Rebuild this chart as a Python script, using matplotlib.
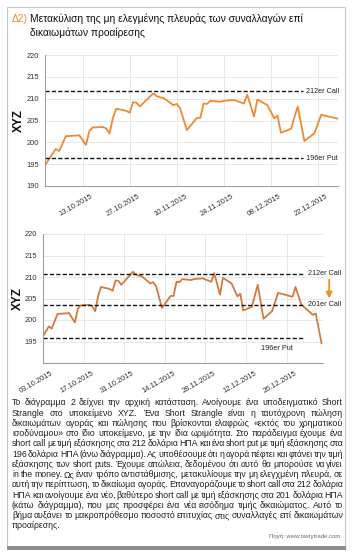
import matplotlib
matplotlib.use("Agg")
import matplotlib.pyplot as plt
import matplotlib.dates as mdates
import matplotlib.transforms as mtransforms
from matplotlib import font_manager
from matplotlib.patches import Rectangle
import pandas as pd

# --- Data -------------------------------------------------------------------
dates = ["2015-10-02", "2015-10-05", "2015-10-06", "2015-10-08", "2015-10-12",
         "2015-10-14", "2015-10-15", "2015-10-16", "2015-10-19", "2015-10-20",
         "2015-10-21", "2015-10-22", "2015-10-23", "2015-10-26", "2015-10-27",
         "2015-10-28", "2015-10-29", "2015-10-30", "2015-11-03", "2015-11-04",
         "2015-11-05", "2015-11-06", "2015-11-09", "2015-11-10", "2015-11-11",
         "2015-11-13", "2015-11-16", "2015-11-17", "2015-11-18", "2015-11-19",
         "2015-11-20", "2015-11-23", "2015-11-24", "2015-11-27", "2015-11-30",
         "2015-12-01", "2015-12-03", "2015-12-04", "2015-12-07", "2015-12-09",
         "2015-12-10", "2015-12-11", "2015-12-14", "2015-12-16", "2015-12-18",
         "2015-12-21", "2015-12-23", "2015-12-28"]
prices = [195.0, 198.5, 198.0, 201.4, 201.6,
          199.4, 202.6, 203.4, 203.5, 203.2,
          202.0, 205.6, 207.7, 207.2, 206.8,
          209.2, 209.1, 208.2, 211.2, 210.6,
          210.3, 210.2, 208.5, 208.8, 207.8,
          202.8, 205.6, 205.6, 208.9, 208.8,
          209.5, 209.3, 209.5, 209.7, 208.9,
          210.9, 205.9, 209.8, 208.5, 205.5,
          206.1, 202.2, 203.1, 208.2, 200.3,
          202.1, 206.3, 205.4]

# extra days shown only in the lower chart
ext_dates = ["2015-12-29", "2015-12-31", "2016-01-04", "2016-01-05", "2016-01-07"]
ext_prices = [207.7, 203.6, 201.2, 201.5, 194.6]

top_levels = [211.7, 196.3]
top_level_labels = ["212er Call", "196er Put"]
bot_levels = [210.7, 203.6, 195.9]
bot_level_labels = ["212er Call", "201er Call", "196er Put"]

top_ticks = ["2015-10-13", "2015-10-27", "2015-11-10", "2015-11-24", "2015-12-08", "2015-12-22"]
bot_ticks = ["2015-10-03", "2015-10-17", "2015-10-31", "2015-11-14", "2015-11-28", "2015-12-12", "2015-12-26"]

title_1 = "Μετακύλιση της μη ελεγμένης πλευράς των συναλλαγών επί"
title_2 = "δικαιωμάτων προαίρεσης"
body_lines = [
    "Το διάγραμμα 2 δείχνει την αρχική κατάσταση. Ανοίγουμε ένα υποδειγματικό Short",
    "Strangle στο υποκείμενο XYZ. Ένα Short Strangle είναι η ταυτόχρονη πώληση",
    "δικαιωμάτων αγοράς και πώλησης που βρίσκονται ελαφρώς «εκτός του χρηματικού",
    "ισοδύναμου» στο ίδιο υποκείμενο, με την ίδια ωριμότητα. Στο παράδειγμα έχουμε ένα",
    "short call με τιμή εξάσκησης στα 212 δολάρια ΗΠΑ και ένα short put με τιμή εξάσκησης στα",
    "196 δολάρια ΗΠΑ (άνω διάγραμμα). Ας υποθέσουμε ότι η αγορά πέφτει και φτάνει την τιμή",
    "εξάσκησης των short puts. Έχουμε απώλεια, δεδομένου ότι αυτό θα μπορούσε να γίνει",
    "in the money. Ως έναν τρόπο αντιστάθμισης, μετακυλίουμε την μη ελεγχμένη πλευρά, σε",
    "αυτή την περίπτωση, το δικαίωμα αγοράς. Επαναγοράζουμε το short call στα 212 δολάρια",
    "ΗΠΑ και ανοίγουμε ένα νέο, βαθύτερο short call με τιμή εξάσκησης στα 201 δολάρια ΗΠΑ",
    "(κάτω διάγραμμα), που μας προσφέρει ένα νέα εισόδημα τιμής δικαιώματος. Αυτό το",
    "βήμα αυξάνει το μακροπρόθεσμο ποσοστό επιτυχίας στις συναλλαγές επί δικαιωμάτων",
    "προαίρεσης.",
]
source = "Πηγή: www.tastytrade.com"

# --- Setup ------------------------------------------------------------------
W, H = 354, 555
names = {f.name for f in font_manager.fontManager.ttflist}
SANS = ["Liberation Sans", "DejaVu Sans"]
NARROW = (["Liberation Sans Narrow"] if "Liberation Sans Narrow" in names else []) + SANS
plt.rcParams["font.family"] = SANS

fig = plt.figure(figsize=(W / 100, H / 100), dpi=100)
fig.patch.set_facecolor("white")


def fx(x):
    return x / W


def fy(y):
    return 1 - y / H


def style_axes(ax, ticks, lo, hi, yticks):
    ax.set_xlim(pd.Timestamp(lo), pd.Timestamp(hi))
    ax.set_ylim(190, 220)
    ax.set_yticks(yticks)
    ax.set_xticks(pd.to_datetime(ticks))
    ax.xaxis.set_major_formatter(mdates.DateFormatter("%d.%m.%Y"))
    ax.grid(True, color="#e4e4e4", lw=0.6)
    ax.set_axisbelow(True)
    for s in ["top", "right"]:
        ax.spines[s].set_visible(False)
    for s in ["left", "bottom"]:
        ax.spines[s].set_color("#a0a0a0")
        ax.spines[s].set_linewidth(0.8)
    ax.tick_params(length=0, pad=4, labelsize=5.4, labelcolor="#333333")
    for lab in ax.get_yticklabels():
        lab.set_family(NARROW)
    off = mtransforms.ScaledTranslation(8 / 100, -1 / 100, fig.dpi_scale_trans)
    for lab in ax.get_xticklabels():
        lab.set_family(NARROW)
        lab.set_rotation(30)
        lab.set_ha("right")
        lab.set_rotation_mode("anchor")
        lab.set_transform(lab.get_transform() + off)


def levels(ax, vals, labels, xmax, label_x, put_below=None):
    tr = mtransforms.blended_transform_factory(ax.transAxes, ax.transData)
    for v, lab in zip(vals, labels):
        ax.axhline(v, xmin=0, xmax=xmax, color="#111111", lw=1.0, ls=(0, (3, 1.6)))
        if put_below is not None and "Put" in lab:
            ax.text(put_below, v - 2.6, lab, transform=tr, fontsize=5.2, family=NARROW,
                    color="#222222", va="center", ha="left")
        else:
            ax.text(label_x, v, lab, transform=tr, fontsize=5.2, family=NARROW,
                    color="#222222", va="center", ha="left")


# --- Top chart --------------------------------------------------------------
ax1 = fig.add_axes([fx(45), fy(186), fx(338) - fx(45), fy(55) - fy(186)])
ax1.plot(pd.to_datetime(dates), prices, color="#ef8a32", lw=1.3)
style_axes(ax1, top_ticks, "2015-10-01 19:00", "2015-12-28", [190, 195, 200, 205, 210, 215, 220])
levels(ax1, top_levels, top_level_labels, 0.88, 0.89)

# --- Bottom chart -----------------------------------------------------------
ax2 = fig.add_axes([fx(43), fy(363), fx(323) - fx(43), fy(234) - fy(363)])
ax2.plot(pd.to_datetime(dates + ext_dates), prices + ext_prices, color="#d47a3e", lw=1.3)
style_axes(ax2, bot_ticks, "2015-10-03", "2016-01-07 12:00", [195, 200, 205, 210, 215, 220])
levels(ax2, bot_levels, bot_level_labels, 0.93, 0.947, put_below=0.78)
tr2 = mtransforms.blended_transform_factory(ax2.transAxes, ax2.transData)
ax2.annotate("", xy=(1.022, 205.0), xytext=(1.022, 209.4), xycoords=tr2, textcoords=tr2,
             arrowprops=dict(arrowstyle="-|>", color="#f39020", lw=1.3,
                             mutation_scale=9, shrinkA=0, shrinkB=0),
             annotation_clip=False)

# y labels
fig.text(fx(19), fy(121), "XYZ", rotation=90, fontsize=8.5, fontweight="bold",
         ha="center", va="center", color="#111111")
fig.text(fx(18), fy(298), "XYZ", rotation=90, fontsize=8.5, fontweight="bold",
         ha="center", va="center", color="#111111")

# --- Title ------------------------------------------------------------------
fig.text(fx(11.5), fy(19), "Δ2)", fontsize=7.4, color="#ef8a2a", va="center", ha="left")
fig.text(fx(30), fy(19), title_1, fontsize=7.4, color="#111111", va="center", ha="left")
fig.text(fx(30), fy(33), title_2, fontsize=7.4, color="#111111", va="center", ha="left")

# --- Body text (justified) -------------------------------------------------
r = fig.canvas.get_renderer()
x0, x1 = 12.0, 343.0
y0, dy = 402.8, 10.25
bsize = 6.3
for i, line in enumerate(body_lines):
    y = y0 + i * dy
    words = line.split()
    if i == len(body_lines) - 1:
        fig.text(fx(x0), fy(y), line, fontsize=bsize, color="#222222", va="center", ha="left")
        continue
    widths = []
    for w in words:
        t = fig.text(0, 0, w, fontsize=bsize)
        widths.append(t.get_window_extent(r).width)
        t.remove()
    gap = ((x1 - x0) - sum(widths)) / (len(words) - 1)
    x = x0
    for w, wd in zip(words, widths):
        fig.text(fx(x), fy(y), w, fontsize=bsize, color="#222222", va="center", ha="left")
        x += wd + gap

fig.text(fx(340), fy(536), source, fontsize=4.3, color="#666666", ha="right", va="center")

# --- Frame ------------------------------------------------------------------
fig.patches.append(Rectangle((fx(7), fy(547)), fx(345) - fx(7), fy(7) - fy(547),
                             transform=fig.transFigure, fill=False, ec="#c8c8c8", lw=0.8))
fig.patches.append(Rectangle((fx(7), fy(549.5)), fx(345.5) - fx(7), fy(546) - fy(549.5),
                             transform=fig.transFigure, fc="#8c8c8c", ec="none"))

fig.savefig("out.png", dpi=100, facecolor="white")
